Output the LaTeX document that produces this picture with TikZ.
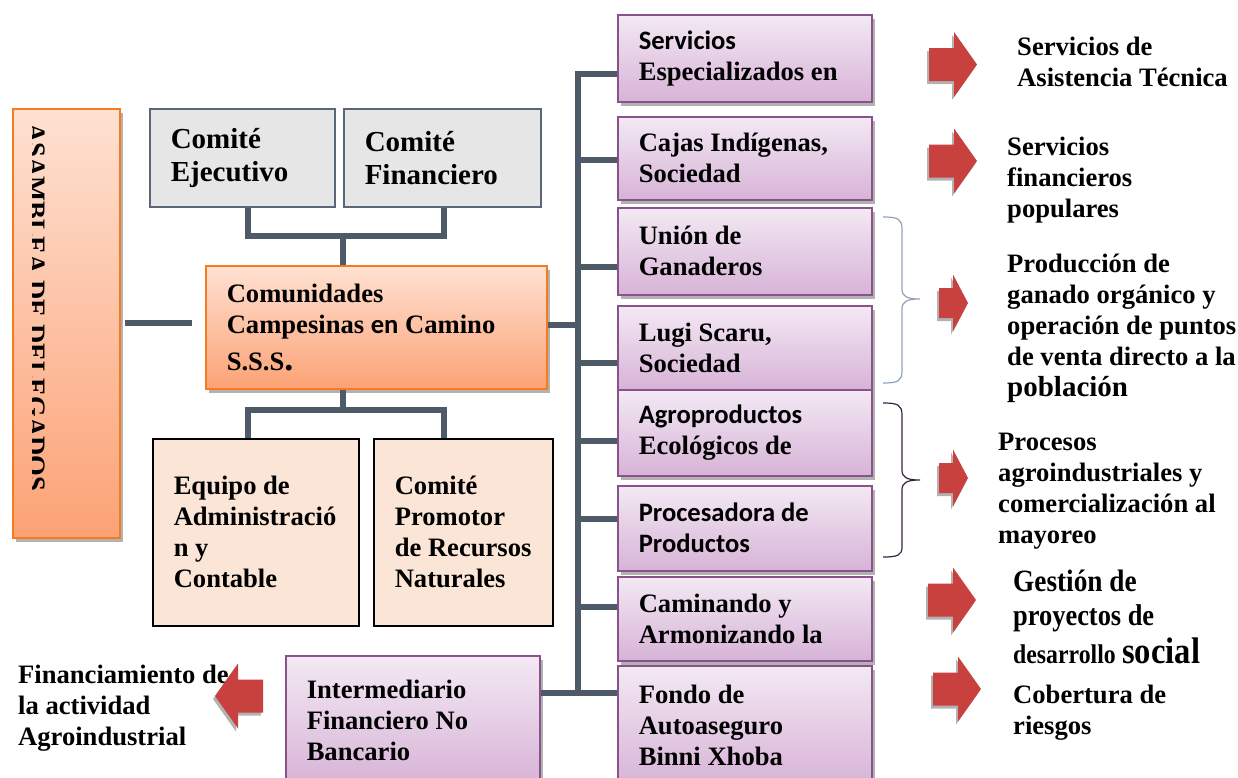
\documentclass[tikz,border=0pt]{standalone}
\usepackage{fontspec}
\setmainfont{Liberation Serif}
\newfontfamily\sansf{Carlito}
\newfontfamily\cnd[FakeStretch=0.88]{Liberation Serif}
\usetikzlibrary{shadows}
\hyphenpenalty=10000
\exhyphenpenalty=10000
\definecolor{conncol}{HTML}{4E5A68}
\definecolor{orgline}{HTML}{F47B20}
\definecolor{orgtop}{HTML}{FEE1D2}
\definecolor{orgbot}{HTML}{FCA275}
\definecolor{purline}{HTML}{8A528A}
\definecolor{purtop}{HTML}{F3E9F3}
\definecolor{purbot}{HTML}{D7B3D7}
\definecolor{grayline}{HTML}{5B6778}
\definecolor{grayfill}{HTML}{E6E6E6}
\definecolor{peach}{HTML}{FBE5D6}
\definecolor{arrred}{HTML}{C8413E}
\definecolor{braceA}{HTML}{8FA3BA}
\definecolor{braceB}{HTML}{3A2140}
\newcommand\bx{\fontsize{26.6}{31}\selectfont\bfseries}
\newcommand\cx{\fontsize{29}{33}\selectfont\bfseries}
\tikzset{
 conn/.style={draw=conncol, line width=6pt},
 shdw/.style={drop shadow={shadow xshift=3pt, shadow yshift=-4pt, opacity=0.3, fill=black}},
 basebox/.style={anchor=north west, inner xsep=21pt, inner ysep=0pt, align=flush left, font=\bx, line width=1.5pt},
 obox/.style={basebox, draw=orgline, top color=orgtop, bottom color=orgbot, shdw},
 pbox/.style={basebox, draw=purline, top color=purtop, bottom color=purbot, shdw, text width=212pt},
 gbox/.style={basebox, draw=grayline, fill=grayfill, font=\cx, minimum height=98pt},
 fbox/.style={basebox, draw=black, fill=peach, minimum height=187pt},
 txt/.style={anchor=north west, inner sep=0pt, align=left, font=\bx},
 bracestyle/.style={line width=1.2pt},
 arr/.style={fill=arrred, drop shadow={shadow xshift=-2pt, shadow yshift=-3pt, opacity=0.3, fill=black}},
 pics/bigarrow/.style={code={\path[arr] (0,-16.5)--(25,-16.5)--(25,-32.5)--(48,0)--(25,32.5)--(25,16.5)--(0,16.5)--cycle;}},
 pics/smallarrow/.style={code={\path[arr] (0,-15)--(14,-15)--(14,-28.5)--(29,0)--(14,28.5)--(14,15)--(0,15)--cycle;}},
}
\begin{document}
\begin{tikzpicture}[x=1pt,y=-1pt]
\useasboundingbox (0,0) rectangle (1238,777);
\fill[white] (0,0) rectangle (1238,777);

% left column
\node[obox, minimum width=107pt, minimum height=429pt] (asm) at (12,108) {};
\begin{scope}
\clip (32,110) rectangle (60,535);
\node[rotate=-90, anchor=base west, inner sep=0pt, font=\bx] (asmtxt) at (27.5,123) {ASAMBLEA DE DELEGADOS};
\end{scope}

\node[gbox, text width=143pt] (ce) at (149,108) {Comité\\Ejecutivo};
\node[gbox, text width=155pt] (cf) at (343,108) {Comité\\Financiero\\[-6pt]};
\node[obox, text width=299pt, minimum height=123pt] (com) at (205,265)
  {Comunidades\\Campesinas~{\sansf en}~Camino\\[6pt]S.S.S{\fontsize{36}{36}\selectfont.}};
\node[fbox, text width=164pt] (eq) at (152,438) {Equipo~de\\Administració\\n~y\\Contable};
\node[fbox, text width=137pt] (cp) at (373,438) {Comité\\Promotor\\de~Recursos\\Naturales};
\node[pbox, minimum height=130pt] (inter) at (285,655) {Intermediario\\Financiero~No\\Bancario};

% right column
\node[pbox, minimum height=87pt] (sv) at (617,14) {{\sansf Servicios}\\Especializados~en};
\node[pbox, minimum height=83pt] (cj) at (617,116) {Cajas~Indígenas,\\Sociedad};
\node[pbox, minimum height=87pt] (un) at (617,207) {Unión~de\\Ganaderos};
\node[pbox, minimum height=84pt] (lg) at (617,305) {Lugi~Scaru,\\Sociedad};
\node[pbox, minimum height=86pt] (ag) at (617,389) {{\sansf Agroproductos}\\Ecológicos~de};
\node[pbox, minimum height=85pt] (pr) at (617,485) {{\sansf Procesadora~de}\\{\sansf Productos}};
\node[pbox, minimum height=84pt] (cm) at (617,576) {Caminando~y\\Armonizando~la};
\node[pbox, minimum height=120pt] (fd) at (617,665) {Fondo~de\\Autoaseguro\\Binni~Xhoba};

% connectors
\coordinate (j1) at (343,236);
\draw[conn] ([xshift=5.5pt]ce.south) -- ([xshift=5.5pt]ce.south |- j1) -- ([xshift=1.5pt]cf.south |- j1) -- ([xshift=1.5pt]cf.south);
\draw[conn] (j1) -- (j1 |- com.north);
\coordinate (j2) at (343,410);
\draw[conn] (j2 |- com.south) -- (j2);
\draw[conn] ([xshift=-8pt]eq.north) -- ([xshift=-8pt]eq.north |- j2) -- ([xshift=-19.5pt]cp.north |- j2) -- ([xshift=-19.5pt]cp.north);
\draw[conn] ([xshift=4pt]asm.east) -- ([xshift=-13pt]asm.east -| com.west);

\coordinate (tk1) at (578,74);
\coordinate (tk8) at (578,693);
\coordinate (tkc) at (578,325);
\draw[conn] (tk1 -| sv.west) -- (tk1) -- (tk8) -- (tk8 -| fd.west);
\draw[conn] (com.east |- tkc) -- (tkc);
\draw[conn] (inter.east |- tk8) -- (tk8);
\foreach \n/\yy in {cj/160, un/267, lg/363, ag/441, pr/519, cm/607}{
  \coordinate (b\n) at (578,\yy);
  \draw[conn] (b\n) -- (b\n -| \n.west);
}

% braces
\draw[bracestyle, draw=braceA] (883,217) .. controls (898,217) and (902,219) .. (902,229) -- (902,289) .. controls (902,296) and (906,299) .. (920,299) .. controls (906,299) and (902,302) .. (902,309) -- (902,371) .. controls (902,381) and (898,383) .. (883,383);
\draw[bracestyle, draw=braceB] (883,403) .. controls (898,403) and (902,405) .. (902,415) -- (902,470) .. controls (902,477) and (906,480) .. (920,480) .. controls (906,480) and (902,483) .. (902,490) -- (902,547) .. controls (902,555) and (898,557) .. (883,557);

% free texts
\node[txt] (t1) at (1017,33.3) {\strut Servicios de\\Asistencia Técnica};
\node[txt] (t2) at (1007,133.3) {\strut Servicios\\financieros\\populares};
\node[txt] (t3) at (1007,250.3) {\strut Producción de\\ganado orgánico y\\operación de puntos\\de venta directo a la\\{\fontsize{29}{31}\selectfont población}};
\node[txt] (t4) at (998,428.3) {\strut Procesos\\agroindustriales y\\comercialización al\\mayoreo};
\node[txt, font=\cnd\fontsize{30}{34}\selectfont\bfseries] (t5) at (1013,567) {\strut{\fontsize{31}{34}\selectfont Gestión de}\\proyectos de\\[4pt]{\fontsize{27}{34}\selectfont desarrollo} {\fontsize{37}{34}\selectfont social}};
\node[txt] (t6) at (1013,681.3) {\strut Cobertura de\\riesgos};
\node[txt] (t7) at (18,661.3) {\strut Financiamiento de\\la actividad\\Agroindustrial};

% arrows
\pic at (929,64.5) {bigarrow};
\pic at (929,161) {bigarrow};
\pic at (939,303) {smallarrow};
\pic at (939,478) {smallarrow};
\pic at (928,600) {bigarrow};
\pic at (933,689) {bigarrow};
\pic[xscale=-1] at (263,696) {bigarrow};
\end{tikzpicture}
\end{document}
